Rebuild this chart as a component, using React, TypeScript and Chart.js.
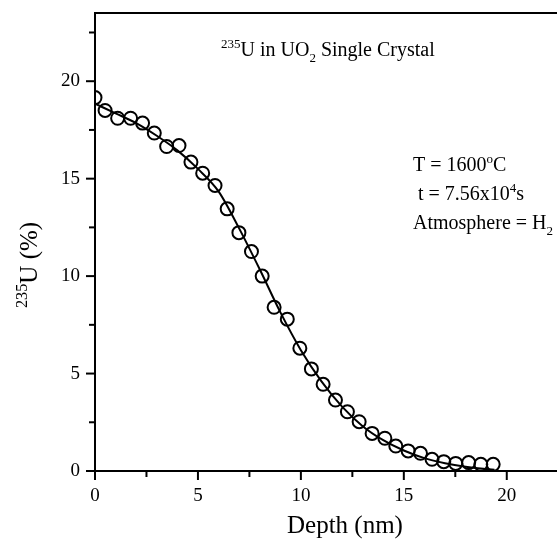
import React, { useEffect, useRef } from 'react';
import { Chart, registerables } from 'chart.js';

Chart.register(...registerables);

// Measured data points: depth (nm) vs 235U (%)
const depth = [0, 0.49, 1.1, 1.73, 2.31, 2.88, 3.48, 4.08, 4.66, 5.23, 5.83, 6.42, 6.99, 7.6, 8.12, 8.7, 9.34, 9.95, 10.51, 11.08, 11.68, 12.26, 12.83, 13.46, 14.08, 14.61, 15.21, 15.81, 16.37, 16.94, 17.52, 18.15, 18.74, 19.34];
const u235 = [19.16, 18.5, 18.1, 18.1, 17.85, 17.34, 16.65, 16.7, 15.85, 15.28, 14.65, 13.45, 12.23, 11.26, 10.0, 8.4, 7.79, 6.3, 5.24, 4.45, 3.64, 3.04, 2.53, 1.93, 1.68, 1.28, 1.03, 0.91, 0.6, 0.48, 0.39, 0.43, 0.34, 0.34];

// Fitted curve
const fitDepth = [0, 1, 2, 3, 4, 5, 6, 7, 8, 9, 10, 11, 12, 13, 14, 15, 16, 17, 18, 19, 19.4];
const fitU = [18.85, 18.35, 17.85, 17.2, 16.45, 15.5, 14.35, 12.45, 10.35, 8.15, 6.2, 4.6, 3.3, 2.3, 1.58, 1.05, 0.66, 0.4, 0.22, 0.1, 0.07];

const xTicks = [0, 5, 10, 15, 20];
const yTicks = [0, 5, 10, 15, 20];

const FONT = '"Liberation Serif", "Times New Roman", serif';

type Part = { t: string; sup?: boolean; sub?: boolean };

function drawRich(ctx: CanvasRenderingContext2D, parts: Part[], x: number, y: number, size: number) {
  let cx = x;
  ctx.textBaseline = 'alphabetic';
  ctx.textAlign = 'left';
  for (const p of parts) {
    const s = p.sup || p.sub ? size * 0.65 : size;
    ctx.font = `${s}px ${FONT}`;
    const dy = p.sup ? -size * 0.42 : p.sub ? size * 0.28 : 0;
    ctx.fillText(p.t, cx, y + dy);
    cx += ctx.measureText(p.t).width;
  }
  return cx - x;
}

const noPad = (s: any) => {
  s.paddingTop = 0;
  s.paddingBottom = 0;
  s.paddingLeft = 0;
  s.paddingRight = 0;
};

const decor = {
  id: 'decor',
  afterDraw(chart: any) {
    const ctx: CanvasRenderingContext2D = chart.ctx;
    const { left, right, top, bottom } = chart.chartArea;
    const xs = chart.scales.x;
    const ys = chart.scales.y;
    ctx.save();
    ctx.strokeStyle = '#000';
    ctx.fillStyle = '#000';
    ctx.lineWidth = 2;
    ctx.beginPath();
    ctx.moveTo(left - 1, top);
    ctx.lineTo(right, top);
    ctx.stroke();
    for (const t of ys.ticks) {
      const y = ys.getPixelForValue(t.value);
      const len = t.value % 5 === 0 ? 9 : 6;
      ctx.beginPath();
      ctx.moveTo(left - len, y);
      ctx.lineTo(left, y);
      ctx.stroke();
    }
    for (const t of xs.ticks) {
      const x = xs.getPixelForValue(t.value);
      const len = t.value % 5 === 0 ? 9 : 6;
      ctx.beginPath();
      ctx.moveTo(x, bottom);
      ctx.lineTo(x, bottom + len);
      ctx.stroke();
    }
    // title inside plot
    drawRich(ctx, [{ t: '235', sup: true }, { t: 'U in UO' }, { t: '2', sub: true }, { t: ' Single Crystal' }], 221, 56, 20);
    // annotations
    drawRich(ctx, [{ t: 'T = 1600' }, { t: 'o', sup: true }, { t: 'C' }], 413, 171, 20);
    drawRich(ctx, [{ t: ' t = 7.56x10' }, { t: '4', sup: true }, { t: 's' }], 413, 200, 20);
    drawRich(ctx, [{ t: 'Atmosphere = H' }, { t: '2', sub: true }], 413, 229, 20);
    // x title
    ctx.font = `25px ${FONT}`;
    ctx.textAlign = 'left';
    ctx.fillText('Depth (nm)', 287, 533);
    // y title (rotated)
    ctx.translate(37, 308);
    ctx.rotate(-Math.PI / 2);
    drawRich(ctx, [{ t: '235', sup: true }, { t: 'U (%)' }], 0, 0, 25);
    ctx.restore();
  },
};

export default function App() {
  const ref = useRef<HTMLCanvasElement>(null);
  useEffect(() => {
    document.body.style.margin = '0';
    const canvas = ref.current!;
    const chart = new Chart(canvas, {
      type: 'scatter',
      data: {
        datasets: [
          {
            type: 'line',
            data: fitDepth.map((x, i) => ({ x, y: fitU[i] })),
            borderColor: '#000',
            borderWidth: 2,
            pointRadius: 0,
            cubicInterpolationMode: 'monotone',
            fill: false,
          } as any,
          {
            data: depth.map((x, i) => ({ x, y: u235[i] })),
            pointRadius: 6.5,
            pointBorderWidth: 2,
            pointBorderColor: '#000',
            pointBackgroundColor: 'rgba(0,0,0,0)',
            showLine: false,
          },
        ],
      },
      options: {
        animation: false,
        responsive: false,
        devicePixelRatio: 1,
        layout: { autoPadding: false, padding: { top: 13, left: 0, right: 0, bottom: 0 } },
        plugins: { legend: { display: false }, tooltip: { enabled: false } },
        scales: {
          x: {
            type: 'linear',
            min: 0,
            max: 22.44,
            afterFit: (s: any) => { s.height = 71; noPad(s); },
            border: { display: true, color: '#000', width: 2 },
            grid: { display: true, drawOnChartArea: false, drawTicks: false },
            ticks: {
              stepSize: 2.5,
              includeBounds: false,
              padding: 14,
              color: '#000',
              font: { family: FONT, size: 19 },
              maxRotation: 0,
              callback: (v: any) => (xTicks.includes(Number(v)) ? String(v) : ''),
            },
          },
          y: {
            type: 'linear',
            min: 0,
            max: 23.5,
            afterFit: (s: any) => { s.width = 95; noPad(s); },
            border: { display: true, color: '#000', width: 2 },
            grid: { display: true, drawOnChartArea: false, drawTicks: false },
            ticks: {
              stepSize: 2.5,
              includeBounds: false,
              padding: 15,
              color: '#000',
              font: { family: FONT, size: 19 },
              callback: (v: any) => (yTicks.includes(Number(v)) ? String(v) : ''),
            },
          },
        },
      },
      plugins: [decor],
    });
    return () => chart.destroy();
  }, []);
  return <canvas ref={ref} width={557} height={542} style={{ display: 'block' }} />;
}
